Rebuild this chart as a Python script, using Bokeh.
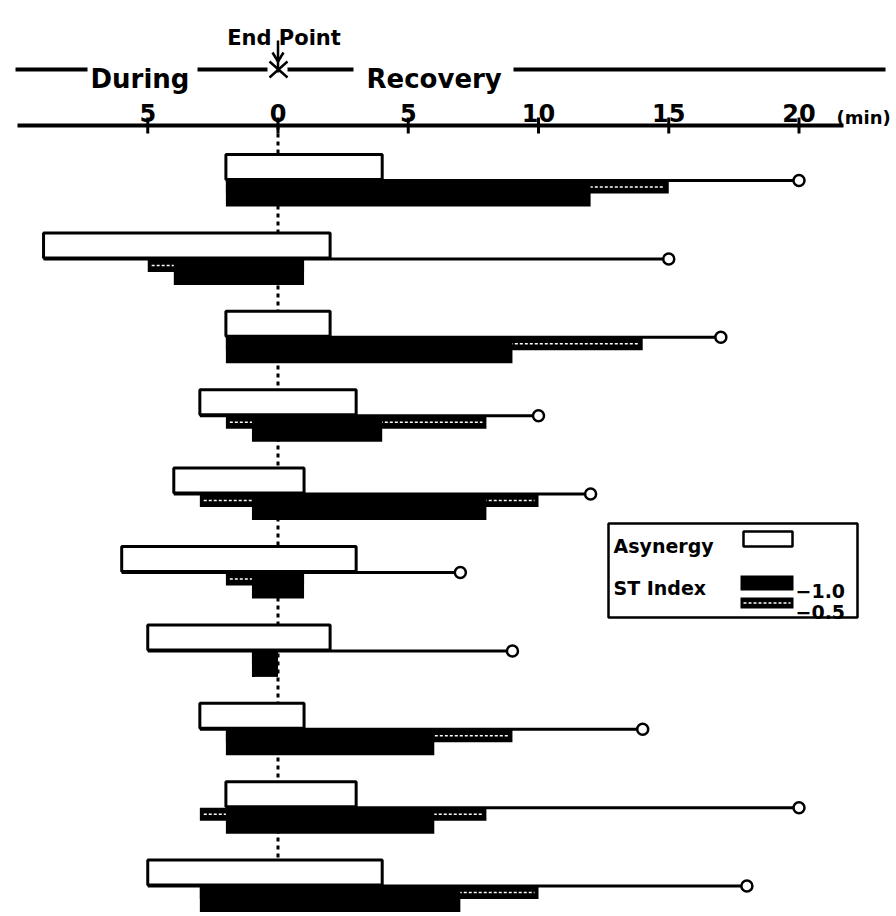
from bokeh.plotting import figure
from bokeh.models import Range1d
from bokeh.core.properties import value
from bokeh.embed import file_html
from bokeh.resources import INLINE

# Timing per case, in minutes relative to the end point (negative = during exercise)
asynergy_start = [-2, -9, -2, -3, -4, -6, -5, -3, -2, -5]
asynergy_end = [4, 2, 2, 3, 1, 3, 2, 1, 3, 4]
st05_start = [-2, -5, -2, -2, -3, -2, -1, -2, -3, -3]
st05_end = [15, 1, 14, 8, 10, 1, 0, 9, 8, 10]
st10_start = [-2, -4, -2, -1, -1, -1, -1, -2, -2, -3]
st10_end = [12, 1, 9, 4, 8, 1, 0, 6, 6, 7]
followup_end = [20, 15, 17, 10, 12, 7, 9, 14, 20, 18]

tick_values = [-5, 0, 5, 10, 15, 20]
tick_labels = ["5", "0", "5", "10", "15", "20"]

# ---- layout ----
W, H = 896, 916
X0, PPM = 277.5, 26.05          # pixel of the end point, pixels per minute
ROW_TOP0, ROW_PITCH = 154, 78.4
BOX_H, BAND_H = 25, 26
AXIS_Y = 125
FONT = value("DejaVu Sans")


def mx(px):
    """Horizontal pixel position -> minutes (for decorations)."""
    return (px - X0) / PPM


p = figure(width=W, height=H,
           x_range=Range1d(mx(0), mx(W)), y_range=Range1d(H, 0),
           output_backend="svg", toolbar_location=None,
           x_axis_location=None, y_axis_location=None,
           min_border=0, min_border_left=0, min_border_right=0,
           min_border_top=0, min_border_bottom=0,
           outline_line_color=None, background_fill_color="white")
p.grid.visible = False

n = len(asynergy_start)
tops = [ROW_TOP0 + i * ROW_PITCH for i in range(n)]
box_bottom = [t + BOX_H for t in tops]
band_top = [t + BOX_H + 1 for t in tops]
band_mid = [t + BOX_H + 1 + BAND_H / 2 for t in tops]
band_bot = [t + BOX_H + 1 + BAND_H for t in tops]
hatch_y = [t + BOX_H + 1 + BAND_H / 4 for t in tops]

# end-point reference line
p.segment(x0=[0], y0=[AXIS_Y], x1=[0], y1=[tops[-1]], line_color="black",
          line_width=3, line_dash="4 4")

# follow-up line from onset to the last observation
p.segment(x0=asynergy_start, y0=band_top, x1=followup_end, y1=band_top,
          line_color="black", line_width=3)

# ST index -0.5 (upper half, hatched)
p.quad(left=st05_start, right=st05_end, top=band_top, bottom=band_mid,
       fill_color="black", line_color=None)
p.segment(x0=[s + 0.15 for s in st05_start], y0=hatch_y,
          x1=[e - 0.15 for e in st05_end], y1=hatch_y,
          line_color="white", line_width=1.5, line_dash="3 2")

# ST index -1.0 (solid)
p.quad(left=st10_start, right=st10_end, top=band_top, bottom=band_bot,
       fill_color="black", line_color=None)

# asynergy
p.quad(left=asynergy_start, right=asynergy_end, top=tops, bottom=box_bottom,
       fill_color="white", line_color="black", line_width=3)

# end markers
p.scatter(x=followup_end, y=band_top, size=11, marker="circle",
          fill_color="white", line_color="black", line_width=2.5)

# ---- time axis ----
p.segment(x0=[mx(17)], y0=[AXIS_Y], x1=[mx(843)], y1=[AXIS_Y],
          line_color="black", line_width=4)
p.segment(x0=tick_values, y0=[AXIS_Y - 8] * len(tick_values),
          x1=tick_values, y1=[AXIS_Y + 8] * len(tick_values),
          line_color="black", line_width=3)
p.text(x=tick_values, y=[112] * len(tick_values), text=tick_labels,
       text_font=FONT, text_font_style="bold", text_font_size="24px",
       text_align="center", text_baseline="alphabetic", text_color="black")
p.text(x=[mx(836)], y=[117], text=["(min)"], text_font=FONT,
       text_font_style="bold", text_font_size="18px",
       text_align="left", text_baseline="alphabetic")

# ---- During / Recovery header ----
HY = 69
seg_px = [(15, 87), (197, 267), (287, 353), (513, 885)]
p.segment(x0=[mx(a) for a, _ in seg_px], y0=[HY] * 4,
          x1=[mx(b) for _, b in seg_px], y1=[HY] * 4,
          line_color="black", line_width=4)
p.text(x=[mx(90), mx(366)], y=[78, 78], text=["During", "Recovery"],
       text_font=FONT, text_font_style="bold", text_font_size="26px",
       text_align="left", text_baseline="alphabetic")
# end point marker and arrow
p.segment(x0=[mx(269), mx(269)], y0=[61, 77], x1=[mx(287), mx(287)], y1=[77, 61],
          line_color="black", line_width=2.5)
p.segment(x0=[0, mx(272), mx(283)], y0=[40, 52, 52],
          x1=[0, 0, 0], y1=[72, 61, 61],
          line_color="black", line_width=2.5)
p.text(x=[mx(283.5)], y=[37], text=["End Point"], text_font=FONT,
       text_font_style="bold", text_font_size="21px",
       text_align="center", text_baseline="alphabetic")

# ---- legend ----
p.quad(left=[mx(608)], right=[mx(857)], top=[523], bottom=[617],
       fill_color="white", line_color="black", line_width=2.5)
p.text(x=[mx(613), mx(613)], y=[545, 587], text=["Asynergy", "ST Index"],
       text_font=FONT, text_font_style="bold", text_font_size="19px",
       text_align="left", text_baseline="alphabetic")
p.quad(left=[mx(743)], right=[mx(792)], top=[531], bottom=[546],
       fill_color="white", line_color="black", line_width=2.5)
p.quad(left=[mx(740), mx(740)], right=[mx(793), mx(793)], top=[575, 597],
       bottom=[590, 608], fill_color="black", line_color=None)
p.segment(x0=[mx(743)], y0=[602.5], x1=[mx(790)], y1=[602.5],
          line_color="white", line_width=1.5, line_dash="3 2")
p.text(x=[mx(795), mx(795)], y=[590, 611], text=["\u22121.0", "\u22120.5"],
       text_font=FONT, text_font_style="bold", text_font_size="19px",
       text_align="left", text_baseline="alphabetic")

open("out.html", "w").write(file_html(p, INLINE))
